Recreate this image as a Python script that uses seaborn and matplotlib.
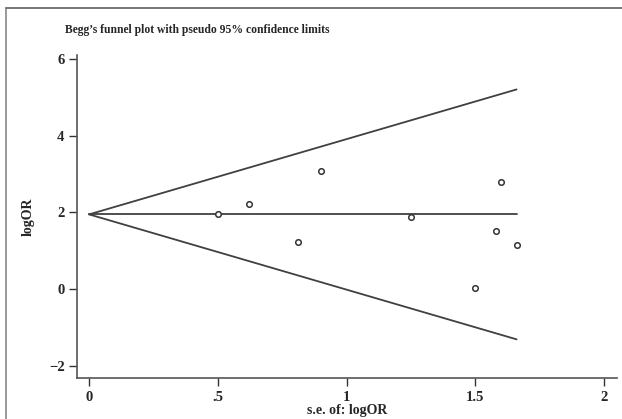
import numpy as np
import pandas as pd
import matplotlib
matplotlib.use("Agg")
import matplotlib.pyplot as plt
import seaborn as sns
from matplotlib.lines import Line2D

# data
se_logor = [0.50, 0.62, 0.81, 0.90, 1.25, 1.60, 1.58, 1.66, 1.50]
logor = [1.95, 2.22, 1.23, 3.09, 1.88, 2.79, 1.52, 1.15, 0.03]
pooled = 1.95
x_ticks = [0, 0.5, 1, 1.5, 2]
x_ticklabels = ["0", ".5", "1", "1.5", "2"]
y_ticks = [-2, 0, 2, 4, 6]
y_ticklabels = ["\u22122", "0", "2", "4", "6"]

sns.set_theme(style="white")
plt.rcParams["font.family"] = ["Liberation Serif", "DejaVu Serif"]
plt.rcParams["font.weight"] = "bold"

fig = plt.figure(figsize=(6.22, 4.19), dpi=100)
ax = fig.add_axes([77 / 622, 1 - 378 / 419, (617 - 77) / 622, (378 - 55) / 419])

df = pd.DataFrame({"se": se_logor, "logOR": logor})

# funnel (pseudo 95% limits) and pooled line
se_max = max(se_logor)
line_df = pd.DataFrame({
    "se": [0, se_max] * 3,
    "y": [pooled, pooled,
          pooled, pooled + 1.96 * se_max,
          pooled, pooled - 1.96 * se_max],
    "g": ["mid", "mid", "up", "up", "lo", "lo"],
})
sns.lineplot(data=line_df, x="se", y="y", units="g", estimator=None,
             color="#404040", linewidth=1.3, ax=ax, legend=False)

sns.scatterplot(data=df, x="se", y="logOR", ax=ax, marker="o", s=16,
                facecolor="white", edgecolor="#333333", linewidth=1.1,
                zorder=3)

ax.set_xlim(-0.047, 2.05)
ax.set_ylim(-2.31, 6.10)
ax.set_xticks(x_ticks)
ax.set_xticklabels(x_ticklabels, fontsize=10.5, fontweight="bold")
ax.set_yticks(y_ticks)
ax.set_yticklabels(y_ticklabels, fontsize=10.5, fontweight="bold")
ax.tick_params(axis="both", direction="out", length=6, width=1.0,
               color="#333333", pad=3, left=True, bottom=True)

for side in ["top", "right"]:
    ax.spines[side].set_visible(False)
for side in ["left", "bottom"]:
    ax.spines[side].set_color("#555555")
    ax.spines[side].set_linewidth(1.2)

ax.set_xlabel("s.e. of: logOR", fontsize=10, fontweight="bold", labelpad=0)
ax.set_ylabel("logOR", fontsize=10, fontweight="bold", labelpad=10)

fig.text(65 / 622, 1 - 30 / 419,
         "Begg\u2019s funnel plot with pseudo 95% confidence limits",
         fontsize=8.4, fontweight="bold", va="center", ha="left")

# outer frame (left and top edges visible)
fy = 1 - 8 / 419
fx = 6 / 622
fig.add_artist(Line2D([fx, fx], [0, fy], transform=fig.transFigure,
                      color="#888888", linewidth=1.2))
fig.add_artist(Line2D([fx, 1], [fy, fy], transform=fig.transFigure,
                      color="#777777", linewidth=1.4))

fig.savefig("out.png", dpi=100)
